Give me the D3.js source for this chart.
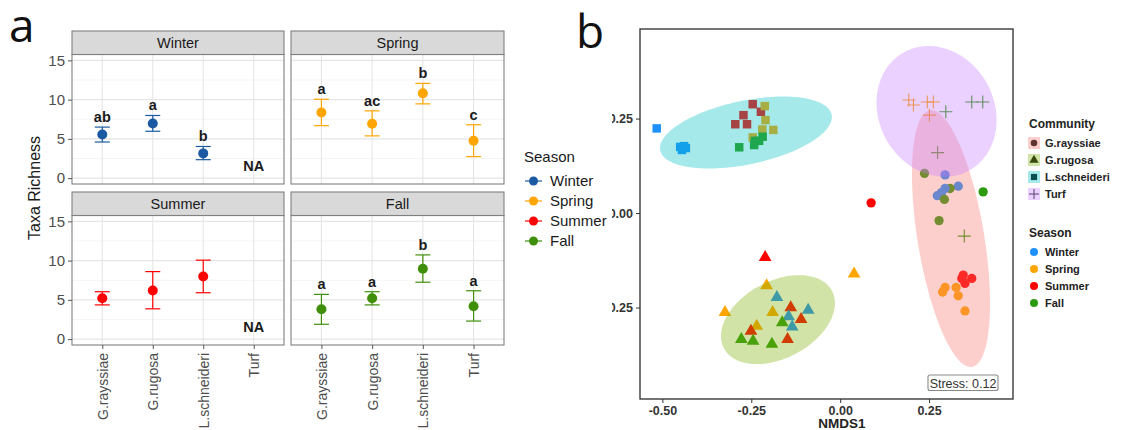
<!DOCTYPE html>
<html>
<head>
<meta charset="utf-8">
<script src="https://cdn.jsdelivr.net/npm/d3@7"></script>
<style>
  body { margin: 0; background: #fff; }
  svg { display: block; font-family: "Liberation Sans", Arial, Helvetica, sans-serif; }
</style>
</head>
<body>
<svg id="fig" width="1122" height="430"></svg>
<script>
// ---------- Panel a: taxa richness (mean with error range) ----------
const communities = ["G.rayssiae", "G.rugosa", "L.schneideri", "Turf"];
const seasons = ["Winter", "Spring", "Summer", "Fall"];
const richnessTicks = [0, 5, 10, 15];

// [mean, lower, upper] per community; null where no samples exist
const winterStats = [[5.55, 4.6, 6.5], [6.95, 5.97, 7.98], [3.15, 2.35, 4.03], null];
const springStats = [[8.36, 6.68, 10.05], [6.93, 5.38, 8.57], [10.8, 9.46, 12.07], [4.75, 2.74, 6.8]];
const summerStats = [[5.2, 4.36, 6.04], [6.2, 3.86, 8.6], [7.97, 5.91, 10.06], null];
const fallStats   = [[3.81, 1.89, 5.7], [5.2, 4.36, 6.04], [8.97, 7.25, 10.73], [4.19, 2.3, 6.16]];

// post-hoc group letters
const winterLetters = ["ab", "a", "b", null];
const springLetters = ["a", "ac", "b", "c"];
const summerLetters = [null, null, null, null];
const fallLetters   = ["a", "a", "b", "a"];

// ---------- Panel b: NMDS ordination ----------
const nmdsTicksX = [-0.5, -0.25, 0, 0.25];
const nmdsTicksY = [-0.25, 0, 0.25];
const stressValue = 0.12;

// [NMDS1, NMDS2, season]
const rayssiaePts = [
  [0.087, 0.027, "Summer"], [0.237, 0.105, "Fall"], [0.295, 0.101, "Winter"],
  [0.332, 0.071, "Winter"], [0.309, 0.065, "Fall"], [0.295, 0.065, "Winter"],
  [0.273, 0.046, "Winter"], [0.285, 0.054, "Winter"], [0.293, 0.036, "Fall"],
  [0.402, 0.056, "Fall"], [0.278, -0.020, "Fall"],
  [0.346, -0.164, "Summer"], [0.370, -0.173, "Summer"], [0.351, -0.186, "Summer"], [0.342, -0.173, "Summer"],
  [0.295, -0.197, "Spring"], [0.288, -0.209, "Spring"], [0.326, -0.197, "Spring"],
  [0.332, -0.219, "Spring"], [0.351, -0.259, "Spring"]
];
const rugosaPts = [
  [-0.211, -0.117, "Summer"], [0.039, -0.161, "Spring"], [-0.324, -0.263, "Spring"],
  [-0.207, -0.192, "Spring"], [-0.178, -0.223, "Winter"], [-0.190, -0.263, "Spring"],
  [-0.139, -0.250, "Summer"], [-0.090, -0.257, "Winter"], [-0.145, -0.274, "Winter"],
  [-0.110, -0.281, "Summer"], [-0.163, -0.290, "Fall"], [-0.135, -0.301, "Winter"],
  [-0.235, -0.299, "Spring"], [-0.251, -0.312, "Summer"], [-0.278, -0.334, "Fall"],
  [-0.245, -0.339, "Fall"], [-0.192, -0.347, "Fall"], [-0.148, -0.334, "Summer"]
];
const schneideriPts = [
  [-0.516, 0.224, "Winter"], [-0.450, 0.175, "Winter"], [-0.439, 0.177, "Winter"],
  [-0.434, 0.172, "Winter"], [-0.445, 0.167, "Winter"],
  [-0.246, 0.288, "Summer"], [-0.223, 0.268, "Summer"], [-0.272, 0.259, "Summer"],
  [-0.295, 0.235, "Summer"], [-0.262, 0.235, "Summer"],
  [-0.212, 0.283, "Spring"], [-0.210, 0.246, "Spring"], [-0.188, 0.220, "Spring"],
  [-0.219, 0.221, "Spring"], [-0.246, 0.200, "Spring"],
  [-0.284, 0.174, "Fall"], [-0.242, 0.180, "Fall"], [-0.218, 0.202, "Fall"],
  [-0.228, 0.191, "Fall"], [-0.240, 0.191, "Fall"]
];
const turfPts = [
  [0.193, 0.299, "Spring"], [0.206, 0.286, "Spring"], [0.245, 0.294, "Spring"],
  [0.262, 0.294, "Spring"], [0.251, 0.259, "Spring"], [0.297, 0.268, "Fall"],
  [0.370, 0.294, "Fall"], [0.401, 0.294, "Fall"], [0.274, 0.160, "Fall"], [0.349, -0.061, "Fall"]
];

// community ellipses: centre and two semi-axis vectors, all in NMDS units
const ellipseCenters = [[0.3116, -0.0675], [-0.175, -0.282], [-0.265, 0.213], [0.271, 0.269]];
const ellipseAxisU   = [[0.0591, -0.3394], [0.152, 0.076], [0.241, 0.0474], [0.0914, -0.1566]];
const ellipseAxisV   = [[-0.0925, -0.0142], [0.0508, -0.0899], [0.0183, -0.0826], [-0.142, -0.0735]];

// ---------- styles ----------
const seasonColA = { Winter: "#1b5aa2", Spring: "#ffa500", Summer: "#ff0000", Fall: "#3f8f0a" };
const seasonColB = { Winter: "#1e90ff", Spring: "#ffa500", Summer: "#ff0000", Fall: "#2e9a12" };
const communityFill = ["#F8766D", "#7CAE00", "#00BFC4", "#C77CFF"];
const shapes = ["circle", "triangle", "square", "cross"];

const svg = d3.select("#fig");

// ================= Panel a =================
svg.append("text").attr("x", 9).attr("y", 42)
  .style("font-family", "'Open Sans', 'Liberation Sans', sans-serif")
  .style("font-size", "46px").attr("fill", "#111").text("a");

const colsA = [[72, 284], [291, 504]];
const rowsA = [[31, 184], [192, 345]];
const stripH = 23.5;
const facetPos = { Winter: [0, 0], Spring: [1, 0], Summer: [0, 1], Fall: [1, 1] };
const statsBySeason = { Winter: winterStats, Spring: springStats, Summer: summerStats, Fall: fallStats };
const lettersBySeason = { Winter: winterLetters, Spring: springLetters, Summer: summerLetters, Fall: fallLetters };

seasons.forEach(season => {
  const [ci, ri] = facetPos[season];
  const [x0, x1] = colsA[ci];
  const [top, bottom] = rowsA[ri];
  const pTop = top + stripH;
  const x = d3.scalePoint().domain(communities).range([x0, x1]).padding(0.6);
  const y = d3.scaleLinear().domain([-0.75, 15.75]).range([bottom, pTop]);
  const g = svg.append("g");

  g.append("rect").attr("x", x0).attr("y", pTop).attr("width", x1 - x0).attr("height", bottom - pTop).attr("fill", "#fff");
  // minor grid
  g.selectAll(".minor").data([2.5, 7.5, 12.5]).join("line")
    .attr("x1", x0).attr("x2", x1).attr("y1", d => y(d)).attr("y2", d => y(d))
    .attr("stroke", "#f2f2f2").attr("stroke-width", 0.8);
  // major grid
  g.selectAll(".major").data(richnessTicks).join("line")
    .attr("x1", x0).attr("x2", x1).attr("y1", d => y(d)).attr("y2", d => y(d))
    .attr("stroke", "#e6e6e6").attr("stroke-width", 1.1);
  g.selectAll(".vgrid").data(communities).join("line")
    .attr("x1", d => x(d)).attr("x2", d => x(d)).attr("y1", pTop).attr("y2", bottom)
    .attr("stroke", "#e6e6e6").attr("stroke-width", 1.1);
  g.append("rect").attr("x", x0).attr("y", pTop).attr("width", x1 - x0).attr("height", bottom - pTop)
    .attr("fill", "none").attr("stroke", "#808080").attr("stroke-width", 1.1);

  // strip
  g.append("rect").attr("x", x0).attr("y", top).attr("width", x1 - x0).attr("height", stripH)
    .attr("fill", "#d9d9d9").attr("stroke", "#808080").attr("stroke-width", 1.1);
  g.append("text").attr("x", (x0 + x1) / 2).attr("y", top + stripH / 2 + 5)
    .attr("text-anchor", "middle").style("font-size", "14.5px").attr("fill", "#1a1a1a").text(season);

  if (ci === 0) {
    const ax = g.append("g").attr("transform", `translate(${x0},0)`)
      .call(d3.axisLeft(y).tickValues(richnessTicks).tickSize(4).tickPadding(3));
    ax.select(".domain").remove();
    ax.selectAll("line").attr("stroke", "#555");
    ax.selectAll("text").style("font-size", "15px").attr("fill", "#4d4d4d").style("font-family", "inherit");
  }
  if (ri === 1) {
    const ax = g.append("g").attr("transform", `translate(0,${bottom})`)
      .call(d3.axisBottom(x).tickSize(4).tickPadding(4));
    ax.select(".domain").remove();
    ax.selectAll("line").attr("stroke", "#555");
    ax.selectAll("text")
      .attr("transform", "rotate(-90)").attr("text-anchor", "end")
      .attr("x", -8).attr("y", 0).attr("dy", "0.36em")
      .style("font-size", "14px").attr("fill", "#4d4d4d").style("font-family", "inherit");
  }

  const stats = statsBySeason[season];
  const letters = lettersBySeason[season];
  const col = seasonColA[season];
  const rows = communities.map((c, i) => ({ c, s: stats[i], l: letters[i] }));
  const present = rows.filter(r => r.s);

  g.selectAll(".eb").data(present).join("line")
    .attr("x1", d => x(d.c)).attr("x2", d => x(d.c))
    .attr("y1", d => y(d.s[1])).attr("y2", d => y(d.s[2]))
    .attr("stroke", col).attr("stroke-width", 1.2);
  [1, 2].forEach(k => {
    g.selectAll(".cap" + k).data(present).join("line")
      .attr("x1", d => x(d.c) - 7.5).attr("x2", d => x(d.c) + 7.5)
      .attr("y1", d => y(d.s[k])).attr("y2", d => y(d.s[k]))
      .attr("stroke", col).attr("stroke-width", 1.2);
  });
  g.selectAll(".pt").data(present).join("circle")
    .attr("cx", d => x(d.c)).attr("cy", d => y(d.s[0])).attr("r", 5).attr("fill", col);
  g.selectAll(".let").data(present.filter(d => d.l)).join("text")
    .attr("x", d => x(d.c)).attr("y", d => y(d.s[2]) - 5)
    .attr("text-anchor", "middle").style("font-size", "14.5px").attr("fill", "#1a1a1a")
    .style("font-weight", "bold").text(d => d.l);
  g.selectAll(".na").data(rows.filter(r => !r.s)).join("text")
    .attr("x", d => x(d.c)).attr("y", y(1.65) + 5.5)
    .attr("text-anchor", "middle").style("font-size", "14.5px").style("font-weight", "bold")
    .attr("fill", "#1a1a1a").text("NA");
});

svg.append("text").attr("transform", "translate(40,188) rotate(-90)")
  .attr("text-anchor", "middle").style("font-size", "16px").attr("fill", "#1a1a1a").text("Taxa Richness");

// season legend for panel a
const legA = svg.append("g").attr("transform", "translate(524,0)");
legA.append("text").attr("x", 0).attr("y", 162).style("font-size", "15px").attr("fill", "#1a1a1a").text("Season");
seasons.forEach((s, i) => {
  const yy = 181 + i * 20;
  legA.append("line").attr("x1", 1).attr("x2", 18).attr("y1", yy).attr("y2", yy)
    .attr("stroke", seasonColA[s]).attr("stroke-width", 1.2);
  legA.append("circle").attr("cx", 9.5).attr("cy", yy).attr("r", 4.5).attr("fill", seasonColA[s]);
  legA.append("text").attr("x", 26).attr("y", yy + 5.3).style("font-size", "15px").attr("fill", "#1a1a1a").text(s);
});

// ================= Panel b =================
svg.append("text").attr("x", 576).attr("y", 48)
  .style("font-family", "'Open Sans', 'Liberation Sans', sans-serif")
  .style("font-size", "46px").attr("fill", "#111").text("b");

svg.append("defs").append("clipPath").attr("id", "clipB")
  .append("rect").attr("x", 612).attr("y", 0).attr("width", 510).attr("height", 430);
const gb = svg.append("g").attr("clip-path", "url(#clipB)");
gb.append("rect").attr("x", 612).attr("y", 0).attr("width", 510).attr("height", 430).attr("fill", "#fff");

const xB = d3.scaleLinear().domain([-0.563, 0.486]).range([640, 1013]);
const yB = d3.scaleLinear().domain([-0.492, 0.487]).range([399, 29]);

const plotB = gb.append("g");
const crossPath = s => `M${-s},0H${s}M0,${-s}V${s}`;
const symGen = {
  circle: d3.symbol(d3.symbolCircle, 68),
  triangle: d3.symbol(d3.symbolTriangle, 70),
  square: d3.symbol(d3.symbolSquare, 72)
};
function drawPoints(pts, shape) {
  const sel = plotB.append("g").selectAll("path").data(pts).join("path")
    .attr("transform", d => `translate(${xB(d[0])},${yB(d[1])})`);
  if (shape === "cross") {
    sel.attr("d", crossPath(6.5)).attr("fill", "none")
      .attr("stroke", d => seasonColB[d[2]]).attr("stroke-width", 1.1);
  } else {
    sel.attr("d", symGen[shape]()).attr("fill", d => seasonColB[d[2]]);
  }
}
drawPoints(rayssiaePts, "circle");
drawPoints(rugosaPts, "triangle");
drawPoints(schneideriPts, "square");
drawPoints(turfPts, "cross");

// ellipses drawn over the points, translucent
const ellLine = d3.line().curve(d3.curveLinearClosed);
ellipseCenters.forEach((c, i) => {
  const u = ellipseAxisU[i], v = ellipseAxisV[i];
  const pts = d3.range(120).map(k => {
    const t = (k / 120) * 2 * Math.PI;
    return [xB(c[0] + u[0] * Math.cos(t) + v[0] * Math.sin(t)),
            yB(c[1] + u[1] * Math.cos(t) + v[1] * Math.sin(t))];
  });
  plotB.append("path").attr("d", ellLine(pts)).attr("fill", communityFill[i]).attr("fill-opacity", 0.35);
});

// frame
gb.append("rect").attr("x", 640).attr("y", 29).attr("width", 373).attr("height", 370)
  .attr("fill", "none").attr("stroke", "#3a3a3a").attr("stroke-width", 1.4);

const fmt = d => d.toFixed(2);
const axB = gb.append("g").attr("transform", "translate(0,399)")
  .call(d3.axisBottom(xB).tickValues(nmdsTicksX).tickFormat(fmt).tickSize(4).tickPadding(3));
const ayB = gb.append("g").attr("transform", "translate(640,0)")
  .call(d3.axisLeft(yB).tickValues(nmdsTicksY).tickFormat(fmt).tickSize(4).tickPadding(3));
[axB, ayB].forEach(a => {
  a.select(".domain").remove();
  a.selectAll("line").attr("stroke", "#333");
  a.selectAll("text").style("font-size", "12.5px").style("font-weight", "bold")
    .attr("fill", "#333").style("font-family", "inherit");
});
gb.append("text").attr("x", 842).attr("y", 428).attr("text-anchor", "middle")
  .style("font-size", "13.5px").style("font-weight", "bold").attr("fill", "#222").text("NMDS1");

// stress annotation
gb.append("rect").attr("x", 928).attr("y", 375).attr("width", 70).attr("height", 15.5).attr("rx", 2)
  .attr("fill", "#fff").attr("stroke", "#8a8a8a").attr("stroke-width", 1.1);
gb.append("text").attr("x", 963).attr("y", 387.5).attr("text-anchor", "middle")
  .style("font-size", "12.5px").attr("fill", "#333").text(`Stress: ${stressValue.toFixed(2)}`);

// community legend
const legB = gb.append("g");
legB.append("text").attr("x", 1029).attr("y", 128).style("font-size", "12px").style("font-weight", "bold")
  .attr("fill", "#222").text("Community");
communities.forEach((c, i) => {
  const yy = 143 + i * 17;
  const kg = legB.append("g").attr("transform", `translate(1034,${yy})`);
  kg.append("rect").attr("x", -6).attr("y", -6).attr("width", 12).attr("height", 12).attr("fill", "#fff");
  if (shapes[i] === "cross") {
    kg.append("path").attr("d", crossPath(5)).attr("stroke", "#222").attr("stroke-width", 1).attr("fill", "none");
  } else {
    const sz = { circle: 34, triangle: 36, square: 38 }[shapes[i]];
    const st = { circle: d3.symbolCircle, triangle: d3.symbolTriangle, square: d3.symbolSquare }[shapes[i]];
    kg.append("path").attr("d", d3.symbol(st, sz)()).attr("fill", "#111");
  }
  kg.append("rect").attr("x", -6).attr("y", -6).attr("width", 12).attr("height", 12)
    .attr("fill", communityFill[i]).attr("fill-opacity", 0.35);
  legB.append("text").attr("x", 1045).attr("y", yy + 4).style("font-size", "11px").style("font-weight", "bold")
    .attr("fill", "#222").text(c);
});

// season legend for panel b
legB.append("text").attr("x", 1029).attr("y", 237).style("font-size", "12px").style("font-weight", "bold")
  .attr("fill", "#222").text("Season");
seasons.forEach((s, i) => {
  const yy = 252 + i * 17;
  legB.append("circle").attr("cx", 1034).attr("cy", yy).attr("r", 4).attr("fill", seasonColB[s]);
  legB.append("text").attr("x", 1045).attr("y", yy + 4).style("font-size", "11px").style("font-weight", "bold")
    .attr("fill", "#222").text(s);
});
</script>
</body>
</html>
